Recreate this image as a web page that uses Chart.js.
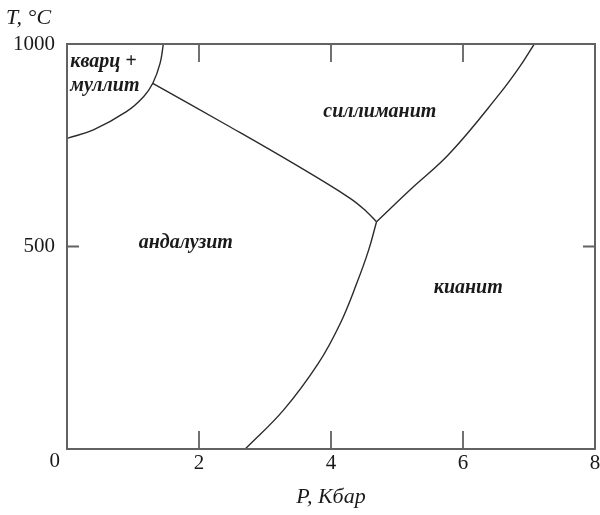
<!DOCTYPE html>
<html>
<head>
<meta charset="utf-8">
<script src="https://cdn.jsdelivr.net/npm/chart.js@4.4.1/dist/chart.umd.min.js"></script>
<style>
  html, body { margin: 0; padding: 0; background: #fff; }
  #wrap { width: 600px; height: 515px; position: relative; }
</style>
</head>
<body>
<div id="wrap"><canvas id="phase"></canvas></div>
<script>
// P, kbar / T, °C
const xTicks = [0, 2, 4, 6, 8];
const yTicks = [0, 500, 1000];

// кварц + муллит boundary
const qmP = [0, 0.40, 0.90, 1.16, 1.30, 1.41, 1.46];
const qmT = [767, 788, 833, 870, 903, 952, 1000];

// андалузит / силлиманит
const asP = [1.30, 2.42, 3.43, 4.29, 4.54, 4.69];
const asT = [903, 800, 705, 619, 586, 561];

// андалузит / кианит
const akP = [2.70, 3.28, 3.81, 4.14, 4.39, 4.57, 4.69];
const akT = [0, 96, 212, 310, 409, 491, 561];

// силлиманит / кианит
const skP = [4.69, 5.20, 5.80, 6.56, 6.86, 7.08];
const skT = [561, 640, 730, 878, 944, 1000];

// field names and where they sit (data units)
const fieldNames = ['кварц +', 'муллит', 'силлиманит', 'андалузит', 'кианит'];
const fieldP = [0.05, 0.05, 4.74, 1.80, 6.08];
const fieldT = [956, 896, 832, 509, 398];
const fieldAlign = ['left', 'left', 'center', 'center', 'center'];

const serif = '"Liberation Serif", "Times New Roman", serif';
const lineColor = '#2b2b2b';
const frameColor = '#626262';

function pts(xs, ys) {
  return xs.map((x, i) => ({ x, y: ys[i] }));
}

function curve(xs, ys) {
  return {
    data: pts(xs, ys),
    borderColor: lineColor,
    borderWidth: 1.4,
    pointRadius: 0,
    fill: false,
    tension: 0.4,
  };
}

// frame, inward ticks and the text inside the diagram
const decor = {
  id: 'decor',
  afterDraw(chart) {
    const { ctx, chartArea: a, scales: { x, y } } = chart;
    ctx.save();
    ctx.strokeStyle = frameColor;
    ctx.lineWidth = 2;
    ctx.strokeRect(a.left, a.top, a.right - a.left, a.bottom - a.top);

    ctx.lineWidth = 1.8;
    ctx.beginPath();
    xTicks.slice(1, -1).forEach(v => {
      const px = x.getPixelForValue(v);
      ctx.moveTo(px, a.bottom); ctx.lineTo(px, a.bottom - 18);
      ctx.moveTo(px, a.top); ctx.lineTo(px, a.top + 18);
    });
    yTicks.slice(1, -1).forEach(v => {
      const py = y.getPixelForValue(v);
      ctx.moveTo(a.left, py); ctx.lineTo(a.left + 12, py);
      ctx.moveTo(a.right, py); ctx.lineTo(a.right - 12, py);
    });
    ctx.stroke();

    ctx.fillStyle = '#1a1a1a';
    ctx.font = '21px ' + serif;
    ctx.textAlign = 'right';
    ctx.textBaseline = 'middle';
    ctx.fillText('0', a.left - 7, a.bottom + 12);

    ctx.font = 'italic 22px ' + serif;
    ctx.textAlign = 'left';
    ctx.fillText('T, °C', 6, 18);

    ctx.font = 'italic bold 20px ' + serif;
    fieldNames.forEach((t, i) => {
      ctx.textAlign = fieldAlign[i];
      ctx.fillText(t, x.getPixelForValue(fieldP[i]), y.getPixelForValue(fieldT[i]));
    });
    ctx.restore();
  }
};

new Chart(document.getElementById('phase'), {
  type: 'line',
  data: {
    datasets: [curve(qmP, qmT), curve(asP, asT), curve(akP, akT), curve(skP, skT)]
  },
  options: {
    responsive: true,
    maintainAspectRatio: false,
    animation: false,
    layout: { padding: { top: 44, right: 5, left: 0, bottom: 0 } },
    plugins: { legend: { display: false }, tooltip: { enabled: false } },
    scales: {
      x: {
        type: 'linear',
        min: 0,
        max: 8,
        grid: { display: false, drawTicks: false },
        border: { display: false },
        afterBuildTicks: (s) => { s.ticks = xTicks.map(v => ({ value: v })); },
        afterFit: (s) => { s.height = 66; s.paddingLeft = 0; s.paddingRight = 0; },
        ticks: {
          color: '#1a1a1a',
          font: { family: serif, size: 21 },
          padding: 2,
          maxRotation: 0,
          callback: (v) => (v === 0 ? '' : v),
        },
        title: {
          display: true,
          text: 'P, Кбар',
          color: '#1a1a1a',
          font: { family: serif, size: 22, style: 'italic' },
          padding: { top: 0, bottom: 5 },
        },
      },
      y: {
        min: 0,
        max: 1000,
        grid: { display: false, drawTicks: false },
        border: { display: false },
        afterBuildTicks: (s) => { s.ticks = yTicks.map(v => ({ value: v })); },
        afterFit: (s) => { s.width = 67; s.paddingTop = 0; s.paddingBottom = 0; },
        ticks: {
          color: '#1a1a1a',
          font: { family: serif, size: 21 },
          padding: 12,
          callback: (v) => (v === 0 ? '' : v),
        },
      },
    },
  },
  plugins: [decor],
});
</script>
</body>
</html>
